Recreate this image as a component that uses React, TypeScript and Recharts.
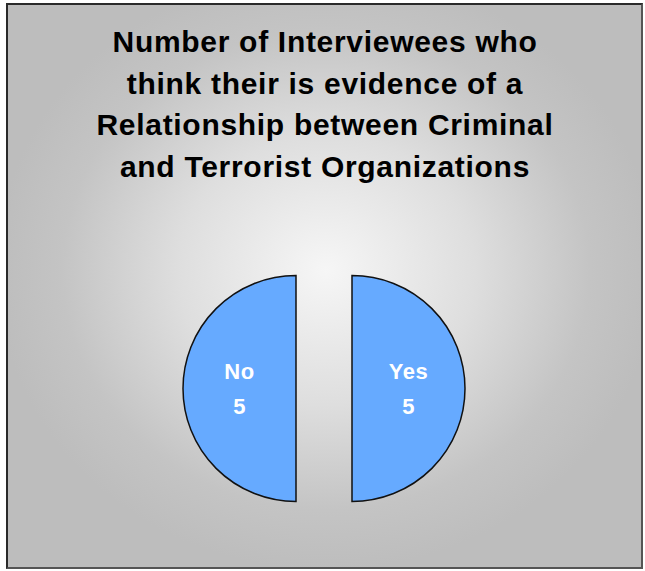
import React from 'react';
import { PieChart, Pie, Cell } from 'recharts';

const categories = ['Yes', 'No'];
const counts = [5, 5];
const titleLines = [
  'Number of Interviewees who',
  'think their is evidence of a',
  'Relationship between Criminal',
  'and Terrorist Organizations',
];

const W = 645;
const H = 571;
const CX = 324;
const CY = 388.5;
const R = 113;
const EXPLODE = 28;
const RAD = Math.PI / 180;

const total = counts.reduce((a, b) => a + b, 0);

// Yes goes clockwise from 12 o'clock, No takes the rest counter-clockwise
const slices = categories.map((name, i) => {
  const sweep = (360 * counts[i]) / total;
  const startAngle = 90;
  const endAngle = i === 0 ? 90 - sweep : 90 + sweep;
  const mid = (startAngle + endAngle) / 2;
  return {
    name,
    value: counts[i],
    startAngle,
    endAngle,
    cx: CX + EXPLODE * Math.cos(mid * RAD),
    cy: CY - EXPLODE * Math.sin(mid * RAD),
  };
});

const renderLabel = (p: any) => {
  const r = p.outerRadius * 0.5;
  const x = p.cx + r * Math.cos(-p.midAngle * RAD);
  const y = p.cy + r * Math.sin(-p.midAngle * RAD);
  return (
    <text
      x={x}
      y={y}
      fill="#ffffff"
      textAnchor="middle"
      fontFamily="'Liberation Sans', Arial, sans-serif"
      fontWeight="bold"
      fontSize={22}
      letterSpacing={0.5}
    >
      <tspan x={x} dy={-10}>{p.name}</tspan>
      <tspan x={x} dy={35}>{p.value}</tspan>
    </text>
  );
};

export default function App() {
  return (
    <div style={{ position: 'absolute', left: 0, top: 0, width: W, height: H, background: '#fff' }}>
      <div
        style={{
          position: 'absolute',
          left: 6,
          top: 3,
          width: 633,
          height: 562,
          border: '2px solid #2a2a2a',
          borderRightColor: '#555',
          borderBottomColor: '#555',
          background: 'radial-gradient(ellipse 330px 300px at 318px 265px, #f6f6f6 0%, #dedede 45%, #c4c4c4 80%, #bdbdbd 100%)',
        }}
      />
      <div
        style={{
          position: 'absolute',
          left: 6,
          top: 21,
          width: 638,
          textAlign: 'center',
          fontFamily: "'Liberation Sans', Arial, sans-serif",
          fontWeight: 'bold',
          fontSize: 30,
          lineHeight: '41.5px',
          letterSpacing: 0.7,
          color: '#000',
        }}
      >
        {titleLines.map((t) => (
          <div key={t}>{t}</div>
        ))}
      </div>
      <div style={{ position: 'absolute', left: 0, top: 0 }}>
        <PieChart width={W} height={H} margin={{ top: 0, right: 0, bottom: 0, left: 0 }}>
          {slices.map((s) => (
            <Pie
              key={s.name}
              data={[s]}
              dataKey="value"
              nameKey="name"
              cx={s.cx}
              cy={s.cy}
              outerRadius={R}
              startAngle={s.startAngle}
              endAngle={s.endAngle}
              label={renderLabel}
              labelLine={false}
              isAnimationActive={false}
            >
              <Cell fill="#66aaff" stroke="#111" strokeWidth={1.5} />
            </Pie>
          ))}
        </PieChart>
      </div>
    </div>
  );
}
